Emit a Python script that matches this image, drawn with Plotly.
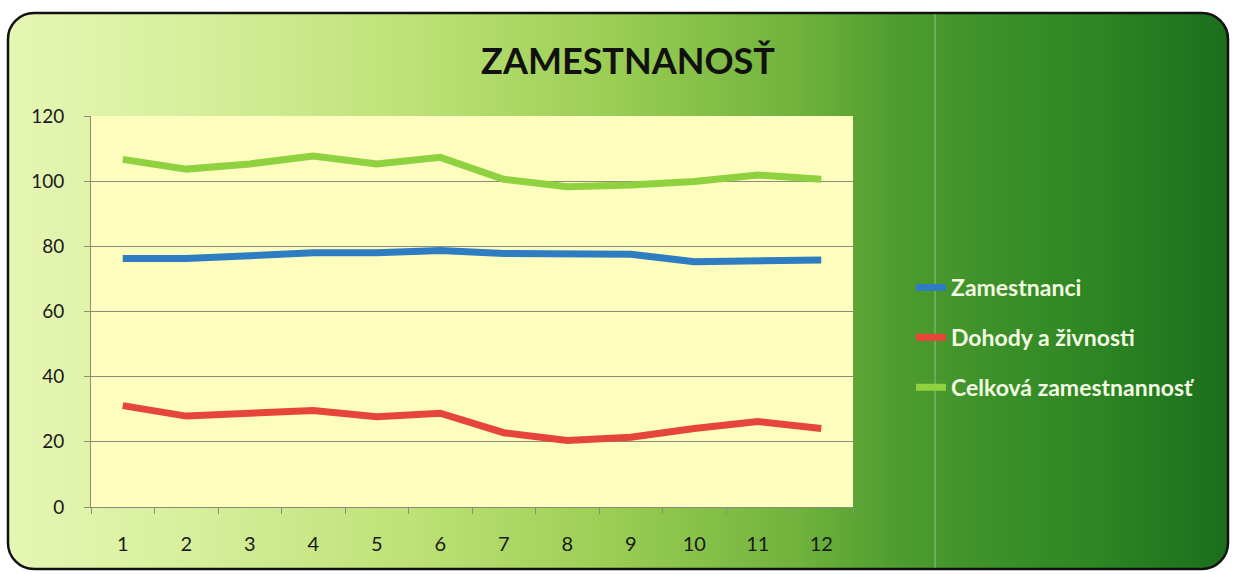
import plotly.graph_objects as go
import urllib.parse

months = ["1", "2", "3", "4", "5", "6", "7", "8", "9", "10", "11", "12"]
zamestnanci = [76.3, 76.3, 77.1, 78.0, 78.0, 78.7, 77.8, 77.8, 77.6, 75.3, 75.3, 75.8]
dohody = [31.1, 27.9, 28.8, 29.6, 27.7, 28.8, 22.8, 20.4, 21.4, 24.1, 26.2, 24.1]
celkova = [106.7, 103.7, 105.3, 107.7, 105.3, 107.3, 100.6, 98.3, 98.8, 99.9, 101.9, 100.6]

series_names = ["Zamestnanci", "Dohody a živnosti", "Celková zamestnannosť"]
series_colors = ["#2E7DC2", "#E6463A", "#8FD13F"]
title_text = "ZAMESTNANOSŤ"

W, H = 1233, 574
L, R, T, B = 91, 380, 116, 67
pw, ph = W - L - R, H - T - B

svg = f'''<svg xmlns="http://www.w3.org/2000/svg" width="{W}" height="{H}" viewBox="0 0 {W} {H}">
<defs><linearGradient id="g" x1="0" y1="0" x2="1" y2="0">
<stop offset="0" stop-color="#E6F6B4"/>
<stop offset="0.15" stop-color="#D6EF9C"/>
<stop offset="0.33" stop-color="#BDE277"/>
<stop offset="0.49" stop-color="#9CCE55"/>
<stop offset="0.65" stop-color="#6FB23C"/>
<stop offset="0.73" stop-color="#4E9C2F"/>
<stop offset="0.82" stop-color="#3A8F28"/>
<stop offset="0.9" stop-color="#2C8423"/>
<stop offset="1" stop-color="#1C6E1C"/>
</linearGradient></defs>
<rect x="0" y="0" width="{W}" height="{H}" fill="#ffffff"/>
<rect x="8" y="13" width="{W-13}" height="{H-18}" rx="26" ry="26" fill="url(#g)" stroke="#111111" stroke-width="2.5"/>
<line x1="935" y1="14" x2="935" y2="{H-6}" stroke="#ffffff" stroke-opacity="0.4" stroke-width="1"/>
</svg>'''
src = "data:image/svg+xml;charset=utf-8," + urllib.parse.quote(svg)

fig = go.Figure()
for name, vals, col in zip(series_names, [zamestnanci, dohody, celkova], series_colors):
    fig.add_trace(go.Scatter(
        x=months, y=vals, name=name, mode="lines", legendgroup=name,
        line=dict(color=col, width=7),
    ))

fig.add_layout_image(dict(
    source=src, xref="paper", yref="paper",
    x=-L / pw, y=1 + T / ph, sizex=W / pw, sizey=H / ph,
    xanchor="left", yanchor="top", sizing="stretch", layer="below",
))
fig.add_shape(type="rect", xref="paper", yref="paper", x0=0, x1=1, y0=0, y1=1,
              fillcolor="#FDFDBE", line=dict(width=0), layer="below")

grid = "#8C8C7C"
fig.update_layout(
    width=W, height=H,
    margin=dict(l=L, r=R, t=T, b=B),
    paper_bgcolor="#ffffff",
    plot_bgcolor="#FDFDBE",
    font=dict(family="Lato, Open Sans, sans-serif", color="#1a1a1a"),
    title=dict(text=f"<b>{title_text}</b>", x=628 / W, xanchor="center",
               y=1 - 61 / H, yanchor="middle",
               font=dict(size=36, color="#111111", family="Lato, Open Sans, sans-serif")),
    showlegend=True,
    legend=dict(
        xref="container", yref="container",
        x=911 / W, y=1 - 266 / H, xanchor="left", yanchor="top",
        bgcolor="rgba(0,0,0,0)", borderwidth=0,
        font=dict(size=23, color="#F2FAE4", family="Lato, Open Sans, sans-serif", weight="bold"),
        tracegroupgap=17, traceorder="grouped",
    ),
    xaxis=dict(
        type="category", range=[-0.5, 11.5],
        showgrid=False, showline=True, linecolor=grid, linewidth=1,
        ticks="outside", tickson="boundaries", ticklen=6, tickcolor=grid,
        tickfont=dict(size=20, color="#1a1a1a"), ticklabelstandoff=19,
        zeroline=False,
    ),
    yaxis=dict(
        range=[0, 120], dtick=20, tick0=0,
        showgrid=True, gridcolor=grid, gridwidth=1,
        showline=True, linecolor=grid, linewidth=1,
        ticks="outside", ticklen=6, tickcolor=grid,
        tickfont=dict(size=19, color="#1a1a1a"), ticklabelstandoff=16,
        zeroline=False,
    ),
)

fig.write_html("out.html", config={"displayModeBar": False},
               post_script="document.body.style.margin='0';document.body.style.overflow='hidden';")
